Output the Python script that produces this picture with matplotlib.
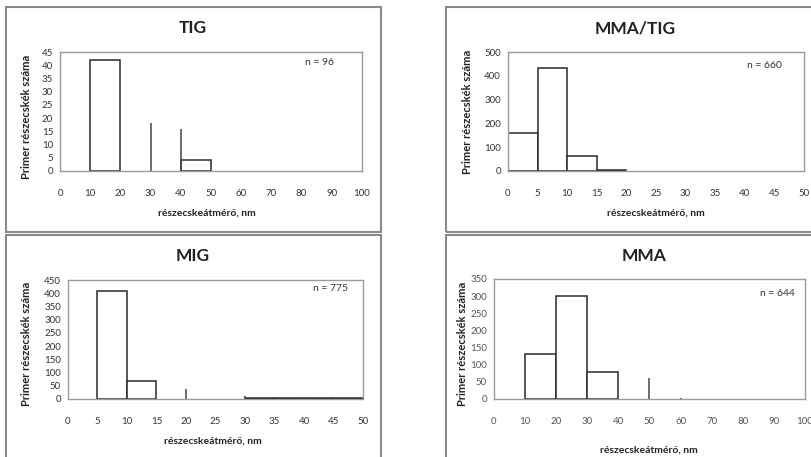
import matplotlib
matplotlib.use("Agg")
import matplotlib.pyplot as plt
from matplotlib.patches import Rectangle
import numpy as np

plt.rcParams['font.family'] = ['Lato', 'DejaVu Sans']

W, H = 812, 457

# --- data ---
tig_edges = [0, 10, 20, 30, 40, 50, 60, 70, 80, 90, 100]
tig_counts = [0, 42, 0, 0, 4, 0, 0, 0, 0, 0]
tig_spike_x = [30, 40]
tig_spike_h = [18, 16]

mmatig_edges = [0, 5, 10, 15, 20, 25, 30, 35, 40, 45, 50]
mmatig_counts = [160, 432, 65, 3, 0, 0, 0, 0, 0, 0]
mmatig_spike_x = []
mmatig_spike_h = []

mig_edges = [0, 5, 10, 15, 20, 25, 30, 35, 40, 45, 50]
mig_counts = [0, 410, 68, 0, 0, 0, 5, 5, 5, 5]
mig_spike_x = [20, 30]
mig_spike_h = [38, 12]

mma_edges = [0, 10, 20, 30, 40, 50, 60, 70, 80, 90, 100]
mma_counts = [0, 130, 300, 80, 0, 0, 0, 0, 0, 0]
mma_spike_x = [50, 60]
mma_spike_h = [62, 3]

titles = ['TIG', 'MMA/TIG', 'MIG', 'MMA']
n_labels = ['n = 96', 'n = 660', 'n = 775', 'n = 644']
y_max = [45, 500, 450, 350]
y_step = [5, 100, 50, 50]

xlabel = 'részecskeátmérő, nm'
ylabel = 'Primer részecskék száma'


def px_rect(x0, y0, x1, y1):
    return [x0 / W, 1 - y1 / H, (x1 - x0) / W, (y1 - y0) / H]


fig = plt.figure(figsize=(W / 100, H / 100), dpi=100)

# panel frames (pixel boxes)
panels = [(6, 7, 381, 232), (446, 7, 830, 232), (6, 235, 381, 470), (446, 235, 830, 470)]
for x0, y0, x1, y1 in panels:
    fig.patches.append(Rectangle((x0 / W, 1 - y1 / H), (x1 - x0) / W, (y1 - y0) / H,
                                 transform=fig.transFigure, fill=False,
                                 edgecolor='#8a8a8a', linewidth=1.5))

axes_px = [(60, 52, 362, 171), (508, 52, 804, 171), (68, 280, 363, 399), (494, 279, 805, 399)]
title_px = [(193, 28), (635, 28), (193, 256), (644, 256)]
xlab_px = [(207, 213), (656, 213), (213, 441), (649, 450)]
ylab_px = [(27, 117), (468, 112), (27, 344), (463, 344)]
n_pos = [(0.86, 0.91), (0.865, 0.89), (0.89, 0.93), (0.91, 0.88)]

data = [
    (tig_edges, tig_counts, tig_spike_x, tig_spike_h),
    (mmatig_edges, mmatig_counts, mmatig_spike_x, mmatig_spike_h),
    (mig_edges, mig_counts, mig_spike_x, mig_spike_h),
    (mma_edges, mma_counts, mma_spike_x, mma_spike_h),
]

for i, (edges, counts, sx, sh) in enumerate(data):
    ax = fig.add_axes(px_rect(*axes_px[i]))
    edges = np.array(edges)
    counts = np.array(counts)
    width = edges[1] - edges[0]
    mask = counts > 0
    ax.bar(edges[:-1][mask], counts[mask], width=width, align='edge',
           color='white', edgecolor='#2a2a2a', linewidth=1.1, zorder=2)
    if sx:
        ax.vlines(sx, 0, sh, color='#444444', linewidth=1.1, zorder=2)
    ax.set_xlim(edges[0], edges[-1])
    ax.set_ylim(0, y_max[i])
    ax.set_xticks(edges)
    ax.set_yticks(np.arange(0, y_max[i] + 1, y_step[i]))
    lab_color = '#555555' if i == 3 else '#333333'
    ax.tick_params(length=0, labelsize=7, colors=lab_color)
    ax.tick_params(axis='x', pad=13)
    ax.tick_params(axis='y', pad=5)
    for sp in ax.spines.values():
        sp.set_color('#9a9a9a')
        sp.set_linewidth(1.0)
    ax.text(n_pos[i][0], n_pos[i][1], n_labels[i], transform=ax.transAxes,
            ha='center', va='center', fontsize=7.5, color='#333333')

    fig.text(title_px[i][0] / W, 1 - title_px[i][1] / H, titles[i],
             ha='center', va='center', fontsize=12.5, fontweight='bold', color='#222222')
    fig.text(xlab_px[i][0] / W, 1 - xlab_px[i][1] / H, xlabel,
             ha='center', va='center', fontsize=7.5, fontweight='bold', color='#222222')
    fig.text(ylab_px[i][0] / W, 1 - ylab_px[i][1] / H, ylabel, rotation=90,
             ha='center', va='center', fontsize=8, fontweight='bold', color='#222222')

fig.savefig('out.png', dpi=100)
